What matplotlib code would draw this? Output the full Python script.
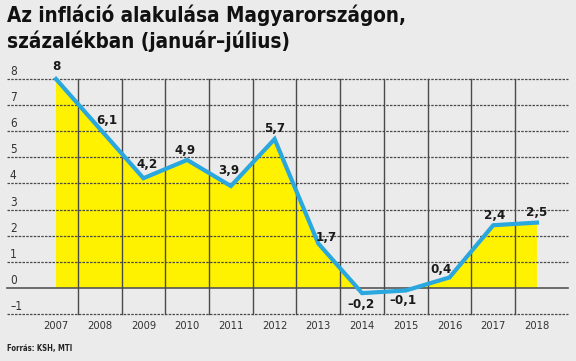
import matplotlib.pyplot as plt
import numpy as np

# data (KSH, MTI): inflation Jan-Jul, percent
years = [2007, 2008, 2009, 2010, 2011, 2012, 2013, 2014, 2015, 2016, 2017, 2018]
inflation = [8.0, 6.1, 4.2, 4.9, 3.9, 5.7, 1.7, -0.2, -0.1, 0.4, 2.4, 2.5]
labels = ["8", "6,1", "4,2", "4,9", "3,9", "5,7", "1,7", "\u20130,2", "\u20130,1", "0,4", "2,4", "2,5"]
y_ticks = [-1, 0, 1, 2, 3, 4, 5, 6, 7, 8]
y_ticklabels = ["\u20131", "0", "1", "2", "3", "4", "5", "6", "7", "8"]

# label offsets in pixels (dx, dy)
offsets = [(0, 12), (7, 8), (4, 14), (-2, 9), (-2, 16), (0, 11),
           (8, 6), (-1, -11), (-3, -10), (-9, 8), (1, 10), (0, 10)]

bg = "#ecebeb"
yellow = "#fff200"
blue = "#2aa7df"
grid_c = "#4a4a4a"

fig = plt.figure(figsize=(5.76, 3.61), dpi=100, facecolor=bg)
ax = fig.add_axes([7 / 576, (361 - 314) / 361, 561 / 576, 235 / 361])
ax.set_facecolor(bg)

x = np.array(years, dtype=float)
y = np.array(inflation)

ax.set_xlim(2005.88, 2018.71)
ax.set_ylim(-1, 8)

# yellow area (positive part only)
ax.fill_between(x, 0, y, where=y > 0, interpolate=True, color=yellow, lw=0, zorder=1)

# horizontal dashed grid
for v in y_ticks:
    if v == 0:
        ax.axhline(0, color="#555555", lw=1.2, zorder=2, clip_on=False)
    else:
        ax.axhline(v, color=grid_c, lw=0.9, ls=(0, (2, 1)), zorder=2, clip_on=False)

# vertical separators between years
for yr in years[:-1]:
    ax.plot([yr + 0.5, yr + 0.5], [-1, 8], color=grid_c, lw=1.0, zorder=2, clip_on=False)

ax.plot(x, y, color=blue, lw=3.0, zorder=3, solid_joinstyle="miter", clip_on=False)

cond = dict(family="DejaVu Sans", stretch="condensed")

for xi, yi, lab, (dx, dy) in zip(x, y, labels, offsets):
    ax.annotate(lab, (xi, yi), xytext=(dx, dy), textcoords="offset pixels",
                ha="center", va="center", fontsize=9.5, fontweight="bold",
                color="#1a1a1a", zorder=4, **cond)

# y tick labels, above the lines
for v, t in zip(y_ticks, y_ticklabels):
    ax.annotate(t, (2005.88, v), xytext=(3, 1), textcoords="offset pixels",
                ha="left", va="bottom", fontsize=8.5, color="#333333", **cond)

# x tick labels
for yr in years:
    ax.annotate(str(yr), (yr, -1), xytext=(0, -12), textcoords="offset pixels",
                ha="center", va="center", fontsize=8, color="#333333", **cond)

ax.set_xticks([])
ax.set_yticks([])
for s in ax.spines.values():
    s.set_visible(False)

fig.text(7 / 576, 1 - 5 / 361, "Az infláció alakulása Magyarországon,\nszázalékban (január\u2013július)",
         ha="left", va="top", fontsize=14.8, fontweight="bold",
         color="#111111", linespacing=1.2, **cond)

fig.text(7 / 576, 1 - 349 / 361, "Forrás: KSH, MTI", ha="left", va="center",
         fontsize=5.5, fontweight="bold", color="#222222", **cond)

fig.savefig("out.png", dpi=100, facecolor=bg)
